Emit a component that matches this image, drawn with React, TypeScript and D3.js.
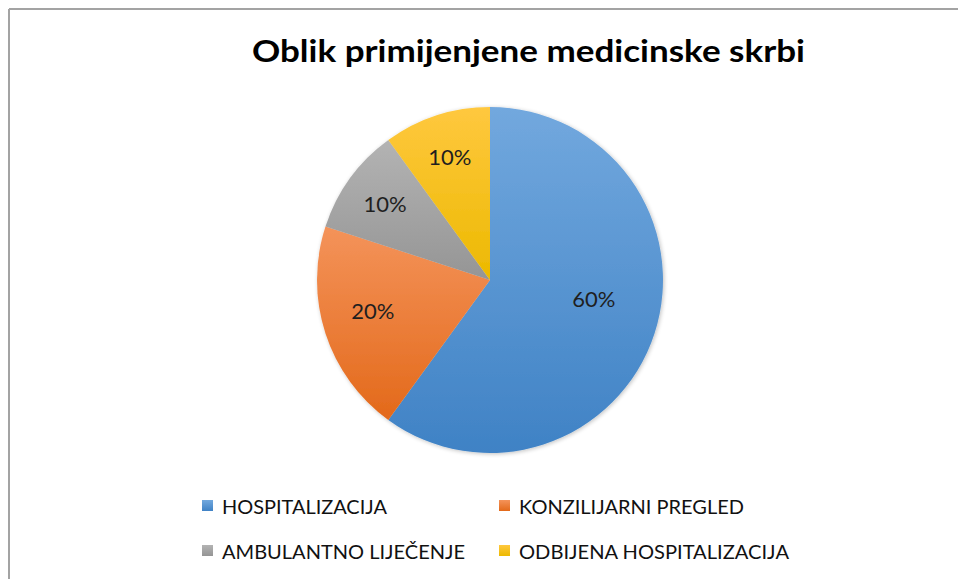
import React from "react";
import * as d3 from "d3";

const categories = [
  "HOSPITALIZACIJA",
  "KONZILIJARNI PREGLED",
  "AMBULANTNO LIJEČENJE",
  "ODBIJENA HOSPITALIZACIJA",
];
const values = [60, 20, 10, 10];
const labels = ["60%", "20%", "10%", "10%"];
const title = "Oblik primijenjene medicinske skrbi";

const gradTop = ["#72a8de", "#f4935a", "#b3b3b3", "#ffc83f"];
const gradBottom = ["#3f82c5", "#e3691a", "#959595", "#ecb900"];

const W = 958;
const H = 579;

export default function App() {
  const cx = 490;
  const cy = 280;
  const r = 173;

  const pie = d3
    .pie<number>()
    .sort(null)
    .value((d) => d)
    .startAngle(0)
    .endAngle(2 * Math.PI);
  const arcs = pie(values);
  const arc = d3.arc<d3.PieArcDatum<number>>().innerRadius(0).outerRadius(r);

  const labelPos = (d: d3.PieArcDatum<number>) => {
    const span = d.endAngle - d.startAngle;
    const big = span > Math.PI;
    const lr = big ? r * 0.61 : span > 1 ? r * 0.7 : r * 0.75;
    const a = (d.startAngle + d.endAngle) / 2 + (big ? -0.14 : span > 1 ? 0.06 : 0);
    return [Math.sin(a) * lr, -Math.cos(a) * lr];
  };

  const colX = d3.scaleOrdinal<number, number>().domain([0, 1]).range([202, 499]);
  const rowY = d3.scaleOrdinal<number, number>().domain([0, 1]).range([505.5, 550.5]);
  const legendWidths = [165, 225, 243, 270];

  return (
    <svg
      width={W}
      height={H}
      style={{ position: "absolute", left: 0, top: 0, background: "#fff" }}
      fontFamily="Lato, 'Open Sans', sans-serif"
    >
      <defs>
        {values.map((_, i) => (
          <linearGradient key={i} id={`g${i}`} x1="0" y1="0" x2="0" y2="1">
            <stop offset="0" stopColor={gradTop[i]} />
            <stop offset="1" stopColor={gradBottom[i]} />
          </linearGradient>
        ))}
        <filter id="shadow" x="-10%" y="-10%" width="120%" height="120%">
          <feGaussianBlur in="SourceAlpha" stdDeviation="2" />
          <feOffset dx="1" dy="1" result="b" />
          <feComponentTransfer>
            <feFuncA type="linear" slope="0.25" />
          </feComponentTransfer>
          <feMerge>
            <feMergeNode />
            <feMergeNode in="SourceGraphic" />
          </feMerge>
        </filter>
      </defs>
      <rect x={0} y={0} width={W} height={H} fill="#fff" />
      <line x1={9} y1={9} x2={W} y2={9} stroke="#a3a3a3" strokeWidth={2} />
      <line x1={9} y1={9} x2={9} y2={H} stroke="#a3a3a3" strokeWidth={2} />

      <text
        x={528.5}
        y={62}
        textAnchor="middle"
        fontSize={31}
        fontWeight="bold"
        fill="#000"
        textLength={553}
        lengthAdjust="spacingAndGlyphs"
      >
        {title}
      </text>

      <g transform={`translate(${cx},${cy})`} filter="url(#shadow)">
        {arcs.map((d, i) => (
          <path key={i} d={arc(d) || ""} fill={`url(#g${i})`} />
        ))}
      </g>
      <g transform={`translate(${cx},${cy})`}>
        {arcs.map((d, i) => {
          const [x, y] = labelPos(d);
          return (
            <text
              key={i}
              x={x}
              y={y}
              textAnchor="middle"
              dominantBaseline="central"
              fontSize={22}
              fill="#1f1f1f"
            >
              {labels[i]}
            </text>
          );
        })}
      </g>

      <g>
        {categories.map((c, i) => {
          const col = i % 2;
          const row = Math.floor(i / 2);
          const x = colX(col);
          const y = rowY(row);
          return (
            <g key={c}>
              <rect x={x} y={y - 5.5} width={11} height={11} fill={`url(#g${i})`} />
              <text
                x={x + 20}
                y={y}
                dominantBaseline="central"
                fontSize={20}
                fill="#111"
                textLength={legendWidths[i]}
                lengthAdjust="spacingAndGlyphs"
              >
                {c}
              </text>
            </g>
          );
        })}
      </g>
    </svg>
  );
}
